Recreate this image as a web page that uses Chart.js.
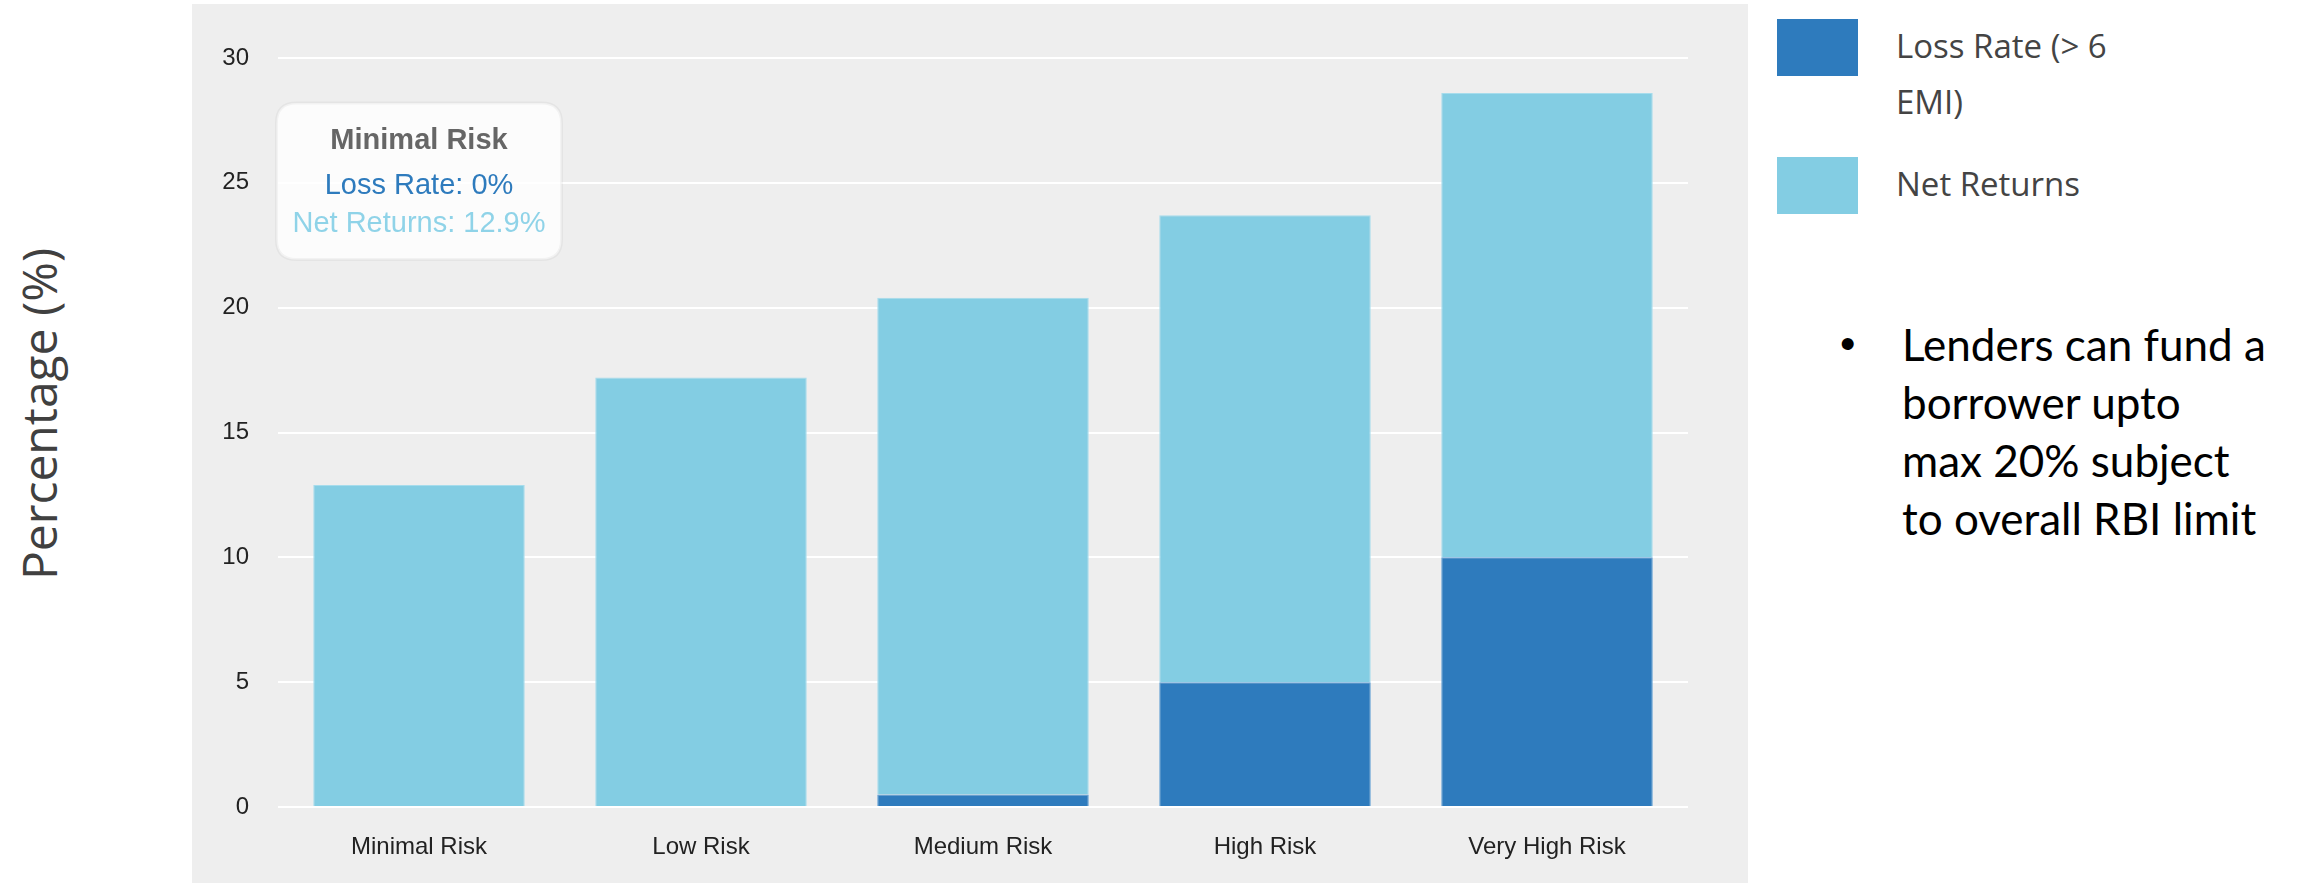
<!DOCTYPE html>
<html>
<head>
<meta charset="utf-8">
<script src="https://cdn.jsdelivr.net/npm/chart.js@4.4.1/dist/chart.umd.min.js"></script>
<style>
    html, body { margin: 0; padding: 0; background: #fff; }
    body { width: 2297px; height: 883px; position: relative; overflow: hidden; }
    #y-title {
        position: absolute; left: 38px; top: 414px;
        transform: translate(-50%, -50%) rotate(-90deg);
        font-family: 'Open Sans', sans-serif; font-size: 48px; color: #404040;
        white-space: nowrap;
    }
    #panel { position: absolute; left: 192px; top: 4px; width: 1556px; height: 879px; background: #eeeeee; }
    #legend { position: absolute; left: 1777px; top: 19px; font-family: 'Open Sans', sans-serif; font-size: 33px; color: #444; }
    .legend-item { position: relative; height: 138px; }
    .legend-item .swatch { position: absolute; left: 0; top: 0; width: 81px; height: 57px; }
    .legend-item .label { position: absolute; left: 119px; top: -1px; width: 250px; line-height: 56px; }
    #note { position: absolute; left: 1902px; top: 315px; font-family: Lato, sans-serif; font-size: 44px; line-height: 58px; color: #000; }
    #note .bullet { position: absolute; left: -62px; top: 0; font-family: 'Liberation Sans', Arial, sans-serif; }
</style>
</head>
<body>
<div id="y-title">Percentage (%)</div>
<div id="panel"><canvas id="riskChart" width="1556" height="879"></canvas></div>
<div id="legend"></div>
<div id="note"><span class="bullet">•</span>Lenders can fund a<br>borrower upto<br>max 20% subject<br>to overall RBI limit</div>
<script>
    // Data
    const categories = ['Minimal Risk', 'Low Risk', 'Medium Risk', 'High Risk', 'Very High Risk'];
    const lossRate = [0, 0, 0.5, 5, 10];
    const netReturns = [12.9, 17.2, 19.9, 18.7, 18.6];
    const seriesNames = ['Loss Rate (> 6 EMI)', 'Net Returns'];
    const tooltipNames = ['Loss Rate', 'Net Returns'];
    const yTicks = [0, 5, 10, 15, 20, 25, 30];

    const colors = ['#2e7bbd', '#83cde3'];
    const edges = ['#5a9bd2', '#a6dcec'];

    // Legend (html, wraps like the original)
    const legend = document.getElementById('legend');
    seriesNames.forEach((name, i) => {
        const item = document.createElement('div');
        item.className = 'legend-item';
        item.innerHTML = '<div class="swatch" style="background:' + colors[i] + '"></div>' +
            '<div class="label">' + name + '</div>';
        legend.appendChild(item);
    });

    // Tooltip sits near the top of the plot above the first bar
    Chart.Tooltip.positioners.topOfPlot = function (elements) {
        if (!elements.length) return false;
        return { x: elements[0].element.x, y: this.chart.chartArea.top + 45 };
    };

    const font = 'Liberation Sans, Arial, sans-serif';

    const riskChart = new Chart(
        document.getElementById('riskChart'),
        {
            type: 'bar',
            data: {
                labels: categories,
                datasets: [
                    {
                        label: seriesNames[0],
                        data: lossRate,
                        backgroundColor: colors[0],
                        borderColor: edges[0],
                        borderWidth: 1
                    },
                    {
                        label: seriesNames[1],
                        data: netReturns,
                        backgroundColor: colors[1],
                        borderColor: edges[1],
                        borderWidth: 1
                    }
                ]
            },
            options: {
                responsive: false,
                animation: false,
                events: [],
                layout: { padding: { left: 0, right: 60, top: 54, bottom: 0 } },
                datasets: { bar: { barPercentage: 0.75, categoryPercentage: 1.0 } },
                plugins: {
                    legend: { display: false },
                    tooltip: {
                        enabled: true,
                        animation: false,
                        position: 'topOfPlot',
                        xAlign: 'center',
                        yAlign: 'top',
                        caretSize: 0,
                        caretPadding: 0,
                        backgroundColor: 'rgba(255,255,255,0.8)',
                        borderColor: 'rgba(0,0,0,0.04)',
                        borderWidth: 3,
                        cornerRadius: 20,
                        displayColors: false,
                        titleAlign: 'center',
                        bodyAlign: 'center',
                        titleColor: '#666',
                        titleFont: { family: font, size: 29, weight: 'bold' },
                        bodyFont: { family: font, size: 29 },
                        titleMarginBottom: 10,
                        bodySpacing: 3,
                        padding: { top: 21, bottom: 18, left: 16, right: 16 },
                        callbacks: {
                            label: (ctx) => tooltipNames[ctx.datasetIndex] + ': ' + ctx.raw + '%',
                            labelTextColor: (ctx) => ctx.datasetIndex === 0 ? colors[0] : '#8fd3e8'
                        }
                    }
                },
                scales: {
                    x: {
                        stacked: true,
                        afterFit: (scale) => { scale.height = 76; },
                        grid: { display: false, drawTicks: false },
                        border: { display: false },
                        ticks: { color: '#222', font: { family: font, size: 24 }, padding: 26 }
                    },
                    y: {
                        stacked: true,
                        min: 0,
                        max: 30,
                        afterFit: (scale) => { scale.width = 86; },
                        afterBuildTicks: (scale) => { scale.ticks = yTicks.map(v => ({ value: v })); },
                        grid: { color: '#ffffff', lineWidth: 2, drawTicks: false },
                        border: { display: false },
                        ticks: { color: '#222', font: { family: font, size: 24 }, padding: 29 }
                    }
                }
            }
        }
    );

    riskChart.tooltip.setActiveElements(
        [{ datasetIndex: 0, index: 0 }, { datasetIndex: 1, index: 0 }],
        { x: 0, y: 0 }
    );
    riskChart.update('none');
</script>
</body>
</html>
